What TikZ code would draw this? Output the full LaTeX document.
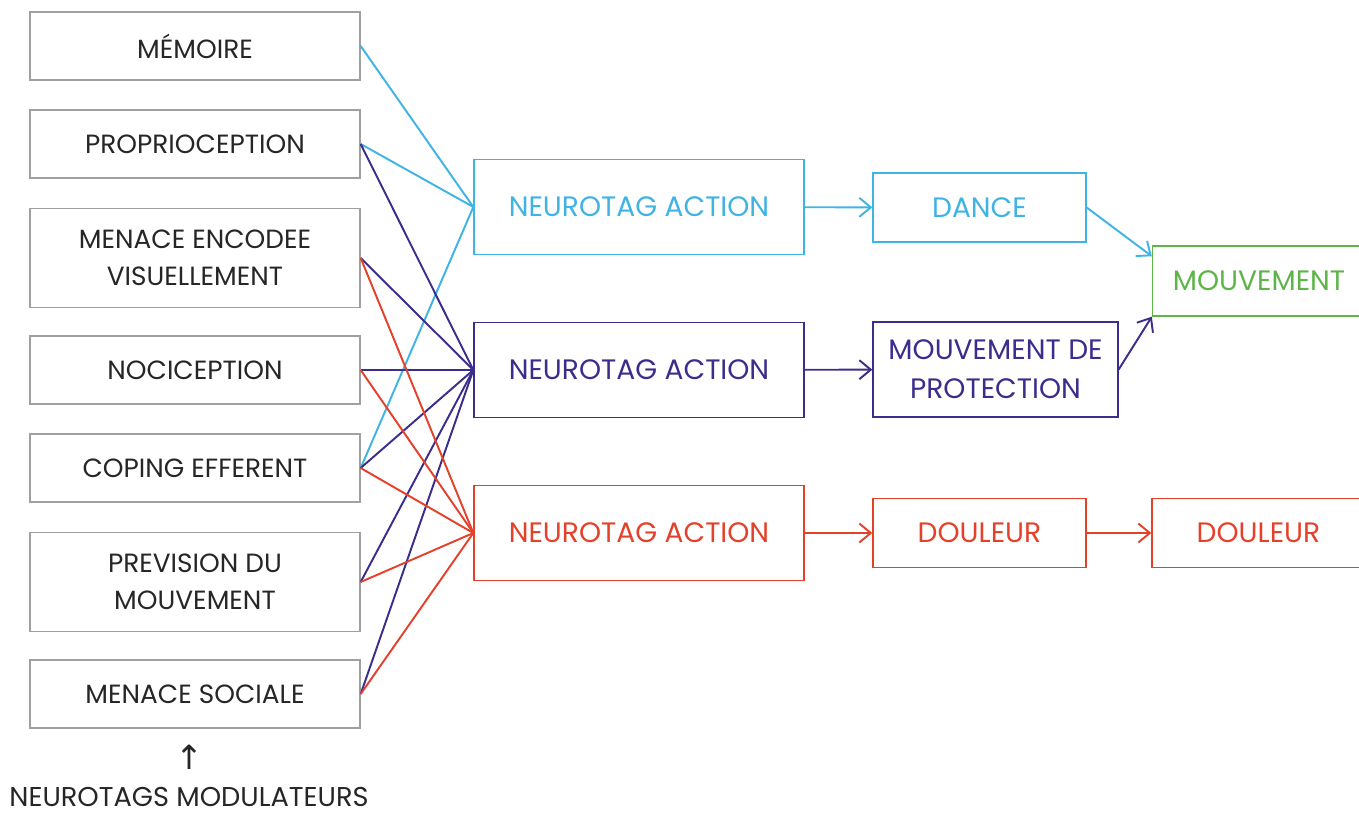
\documentclass[tikz,border=0pt]{standalone}
\usepackage{fontspec}
\setmainfont{Poppins}
\newfontfamily\arrowfont{DejaVu Sans}
\usetikzlibrary{arrows.meta}
\definecolor{tagblue}{HTML}{3FB4E4}
\definecolor{tagviolet}{HTML}{3B2D8C}
\definecolor{tagred}{HTML}{E5412A}
\definecolor{taggreen}{HTML}{5DB548}
\definecolor{boxgray}{HTML}{A0A0A0}

\begin{document}
\begin{tikzpicture}[x=0.02cm, y=-0.02cm,
    modbox/.style={draw=boxgray, line width=0.8pt, minimum width=6.6cm,
      minimum height=1.36cm, align=center, text=black!85,
      font=\fontsize{15}{21}\selectfont},
    tallbox/.style={minimum height=1.98cm},
    tagbox/.style={draw=#1, text=#1, line width=0.8pt, minimum width=6.6cm,
      minimum height=1.9cm, font=\fontsize{16}{19}\selectfont},
    outbox/.style={draw=#1, text=#1, line width=0.8pt, minimum width=4.26cm,
      minimum height=1.38cm, align=center, font=\fontsize{16}{22}\selectfont},
    link/.style={draw=#1, line width=1.1pt},
    arr/.style={draw=#1, line width=1.1pt, -{Straight Barb[length=2.3mm,width=3.8mm]}},
  ]
  \useasboundingbox (0,0) rectangle (1359,820);

  \node[modbox] (memoire) at (195,46) {MÉMOIRE};
  \node[modbox] (proprio) at (195,144) {PROPRIOCEPTION};
  \node[modbox, tallbox] (visuel) at (195,258) {MENACE ENCODEE\\VISUELLEMENT};
  \node[modbox] (nocicep) at (195,370) {NOCICEPTION};
  \node[modbox] (coping) at (195,468) {COPING EFFERENT};
  \node[modbox, tallbox] (prevision) at (195,582) {PREVISION DU\\MOUVEMENT};
  \node[modbox] (social) at (195,694) {MENACE SOCIALE};
  \node[align=center, text=black!85, inner sep=1pt, font=\fontsize{15.5}{21}\selectfont]
    (modul) at (189,776) {{\arrowfont\fontsize{19}{21}\selectfont ↑}\\NEUROTAGS MODULATEURS};

  \node[tagbox=tagblue] (actblue) at (639,207) {NEUROTAG ACTION};
  \node[tagbox=tagviolet] (actviolet) at (639,370) {NEUROTAG ACTION};
  \node[tagbox=tagred] (actred) at (639,533) {NEUROTAG ACTION};

  \node[outbox=tagblue] (dance) at (979.5,207.5) {DANCE};
  \node[outbox=tagviolet, minimum width=4.9cm, minimum height=1.9cm]
    (protect) at (995.5,369.5) {MOUVEMENT DE\\PROTECTION};
  \node[outbox=tagred] (douleur) at (979.5,533) {DOULEUR};
  \node[outbox=tagred] (douleurfin) at (1258.5,533) {DOULEUR};
  \node[outbox=taggreen, minimum height=1.4cm] (mouvement) at (1259,281) {MOUVEMENT};

  \foreach \src in {memoire, proprio, coping}
    \draw[link=tagblue] (\src.east) -- (actblue.west);
  \foreach \src in {proprio, visuel, nocicep, coping, prevision, social}
    \draw[link=tagviolet] (\src.east) -- (actviolet.west);
  \foreach \src in {visuel, nocicep, coping, prevision, social}
    \draw[link=tagred] (\src.east) -- (actred.west);

  \draw[arr=tagblue] (actblue) -- (dance);
  \draw[arr=tagviolet] (actviolet) -- (protect);
  \draw[arr=tagred] (actred) -- (douleur);
  \draw[arr=tagred] (douleur) -- (douleurfin);
  \draw[arr=tagblue] (dance.east) -- (mouvement.167);
  \draw[arr=tagviolet] (protect.east) -- (mouvement.south west);
\end{tikzpicture}
\end{document}
